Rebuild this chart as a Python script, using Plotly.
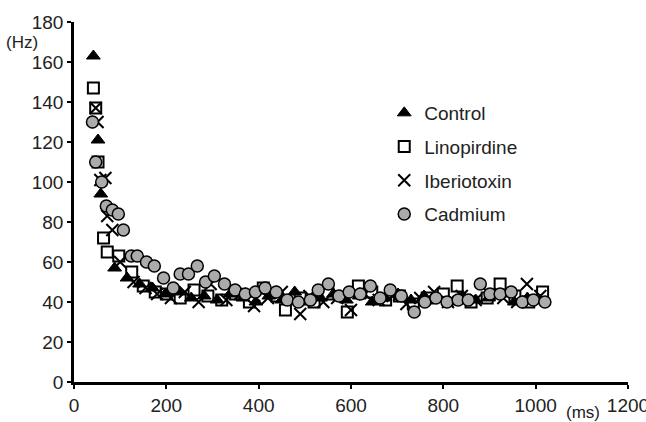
import plotly.graph_objects as go

ctrl_x = [42, 52, 58, 88, 115, 142, 170, 198, 226, 254, 282, 310, 338, 366, 394, 422, 450, 478, 506, 534, 562, 590, 618, 646, 674, 702, 730, 758, 786, 814, 842, 870, 898, 926, 954, 982, 1010]
ctrl_y = [163, 121, 94, 57, 52, 49, 47, 44, 45, 42, 43, 41, 44, 42, 40, 43, 41, 45, 40, 42, 44, 41, 43, 40, 42, 44, 41, 43, 42, 40, 43, 41, 42, 44, 40, 42, 41]

lino_x = [42, 47, 52, 64, 72, 97, 125, 150, 176, 200, 230, 260, 290, 320, 350, 380, 410, 440, 458, 490, 520, 550, 592, 616, 645, 675, 705, 735, 765, 800, 830, 860, 895, 923, 955, 985, 1015]
lino_y = [147, 137, 110, 72, 65, 63, 55, 48, 45, 44, 42, 46, 43, 41, 44, 40, 47, 43, 36, 42, 40, 44, 35, 48, 45, 41, 43, 39, 42, 44, 48, 40, 42, 49, 43, 40, 45]

ibtx_x = [47, 51, 57, 68, 72, 83, 100, 129, 155, 180, 210, 240, 270, 296, 330, 360, 390, 420, 450, 490, 510, 540, 570, 600, 630, 660, 690, 720, 750, 780, 810, 840, 870, 900, 930, 960, 981, 1010]
ibtx_y = [137, 130, 101, 102, 83, 76, 60, 50, 47, 44, 42, 45, 40, 49, 41, 44, 38, 42, 45, 34, 43, 40, 42, 36, 44, 41, 43, 39, 42, 45, 40, 43, 41, 44, 42, 40, 49, 43]

cad_x = [40, 47, 60, 70, 83, 96, 107, 124, 137, 157, 174, 194, 215, 230, 248, 267, 285, 304, 326, 349, 371, 393, 414, 438, 462, 486, 512, 529, 551, 574, 596, 620, 642, 663, 685, 709, 737, 760, 784, 808, 832, 854, 880, 901, 923, 947, 971, 995, 1020]
cad_y = [130, 110, 100, 88, 86, 84, 76, 63, 63, 60, 58, 52, 47, 54, 54, 58, 50, 53, 49, 46, 44, 45, 47, 45, 41, 40, 41, 46, 49, 43, 45, 44, 48, 42, 46, 43, 35, 40, 42, 40, 41, 41, 49, 44, 44, 45, 40, 41, 40]

series_names = ["Control", "Linopirdine", "Iberiotoxin", "Cadmium"]

FONT = "Liberation Sans, Arial, sans-serif"

fig = go.Figure()
fig.add_trace(go.Scatter(x=ctrl_x, y=ctrl_y, mode="markers", name=series_names[0], legendgroup="a",
                         marker=dict(symbol="triangle-up", size=12, color="black", line=dict(color="black", width=1))))
fig.add_trace(go.Scatter(x=lino_x, y=lino_y, mode="markers", name=series_names[1], legendgroup="b",
                         marker=dict(symbol="square-open", size=11, color="black", line=dict(color="black", width=2))))
fig.add_trace(go.Scatter(x=ibtx_x, y=ibtx_y, mode="markers", name=series_names[2], legendgroup="c",
                         marker=dict(symbol="x-thin-open", size=12, color="black", line=dict(color="black", width=2))))
fig.add_trace(go.Scatter(x=cad_x, y=cad_y, mode="markers", name=series_names[3], legendgroup="d",
                         marker=dict(symbol="circle", size=12, color="#ababab", line=dict(color="black", width=1.5))))

axis_common = dict(showgrid=False, zeroline=False, showline=True, linecolor="black", linewidth=2.5,
                   ticks="outside", ticklen=4, tickwidth=1.5, tickcolor="black",
                   ticklabeloverflow="allow", automargin=False,
                   tickfont=dict(family=FONT, size=19, color="#222"))

fig.update_layout(
    width=646, height=422,
    margin=dict(l=74, r=18, t=22, b=40, autoexpand=False),
    paper_bgcolor="white", plot_bgcolor="white",
    font=dict(family=FONT, color="#222"),
    xaxis=dict(range=[0, 1200], tickvals=[0, 200, 400, 600, 800, 1000, 1200], **axis_common),
    yaxis=dict(range=[0, 180], tickvals=[0, 20, 40, 60, 80, 100, 120, 140, 160, 180], **axis_common),
    legend=dict(x=0.56, y=0.80, xanchor="left", yanchor="top", font=dict(family=FONT, size=19, color="#222"),
                tracegroupgap=6, bgcolor="rgba(0,0,0,0)"),
    annotations=[
        dict(text="(Hz)", xref="paper", yref="paper", x=-0.094, y=0.942, xanchor="center", yanchor="middle",
             showarrow=False, font=dict(family=FONT, size=17, color="#222")),
        dict(text="(ms)", xref="paper", yref="paper", x=0.919, y=-0.085, xanchor="center", yanchor="middle",
             showarrow=False, font=dict(family=FONT, size=17, color="#222")),
    ],
)

fig.write_html("out.html")
